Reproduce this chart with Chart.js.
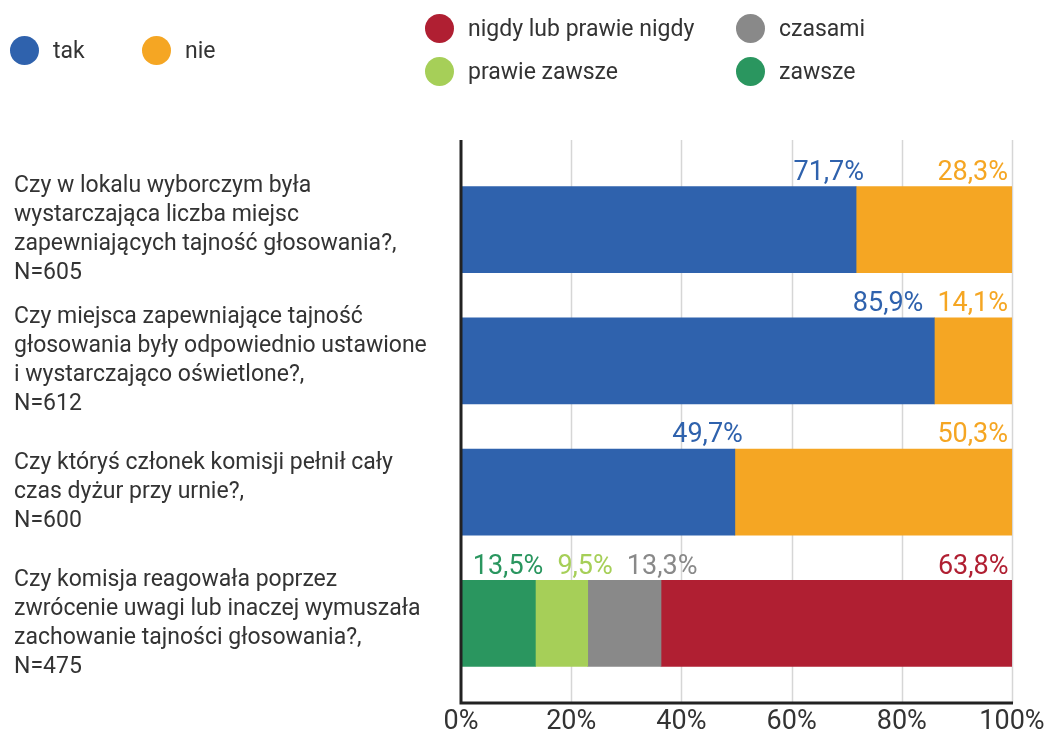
<!DOCTYPE html>
<html lang="pl">
<head>
<meta charset="utf-8">
<script src="https://cdn.jsdelivr.net/npm/chart.js@4/dist/chart.umd.min.js"></script>
<style>
  html, body { margin: 0; padding: 0; background: #fff; }
  #wrap { position: relative; width: 1045px; height: 735px; font-family: Roboto, "Noto Sans", sans-serif; color: #333; }
  #chart { position: absolute; left: 0; top: 0; }
  .legend { position: absolute; display: grid; row-gap: 14px; font-size: 23px; }
  .legend .item { display: flex; align-items: center; height: 29px; }
  .legend .dot { width: 29px; height: 29px; border-radius: 50%; margin-right: 14px; flex: none; }
  #legend-a { left: 10px; top: 36px; grid-template-columns: 132px auto; }
  #legend-b { left: 425px; top: 14px; grid-template-columns: 311px auto; }
</style>
</head>
<body>
<div id="wrap">
  <canvas id="chart" width="1045" height="735"></canvas>
  <div class="legend" id="legend-a"></div>
  <div class="legend" id="legend-b"></div>
</div>
<script>
// ── dane ────────────────────────────────────────────────────────────────
const categories = [
    ['Czy w lokalu wyborczym była', 'wystarczająca liczba miejsc', 'zapewniających tajność głosowania?,', 'N=605'],
    ['Czy miejsca zapewniające tajność', 'głosowania były odpowiednio ustawione', 'i wystarczająco oświetlone?,', 'N=612'],
    ['Czy któryś członek komisji pełnił cały', 'czas dyżur przy urnie?,', 'N=600'],
    ['Czy komisja reagowała poprzez', 'zwrócenie uwagi lub inaczej wymuszała', 'zachowanie tajności głosowania?,', 'N=475'],
];
const tak = [71.7, 85.9, 49.7, null];
const nie = [28.3, 14.1, 50.3, null];
const zawsze = [null, null, null, 13.5];
const prawieZawsze = [null, null, null, 9.5];
const czasami = [null, null, null, 13.3];
const nigdy = [null, null, null, 63.8];
const xTicks = [0, 20, 40, 60, 80, 100];

const series = [
    { label: 'tak', data: tak, color: '#2f62ad', legend: 'a', order: 0 },
    { label: 'nie', data: nie, color: '#f5a623', legend: 'a', order: 1 },
    { label: 'zawsze', data: zawsze, color: '#2a965f', legend: 'b', order: 3 },
    { label: 'prawie zawsze', data: prawieZawsze, color: '#a6cf58', legend: 'b', order: 2 },
    { label: 'czasami', data: czasami, color: '#898989', legend: 'b', order: 1 },
    { label: 'nigdy lub prawie nigdy', data: nigdy, color: '#b01f32', legend: 'b', order: 0 },
];

// ── legenda (HTML, dwie grupy) ───────────────────────────────────────────
['a', 'b'].forEach((g) => {
    const box = document.getElementById('legend-' + g);
    series.filter((s) => s.legend === g).sort((p, q) => p.order - q.order).forEach((s) => {
        const it = document.createElement('div');
        it.className = 'item';
        it.innerHTML = `<span class="dot" style="background:${s.color}"></span><span>${s.label}</span>`;
        box.appendChild(it);
    });
});

const FONT = 'Roboto, "Noto Sans", sans-serif';
const LINE_TOP = 140, LINE_BOTTOM = 703;
const pct = (v) => v.toFixed(1).replace('.', ',') + '%';

// Siatka i osie sięgają poza pole wykresu (jak w oryginale).
const axesPlugin = {
    id: 'axesLines',
    beforeDatasetsDraw(chart) {
        const { ctx, scales: { x } } = chart;
        ctx.save();
        ctx.strokeStyle = '#d6d6d6';
        ctx.lineWidth = 1.5;
        xTicks.slice(1).forEach((t) => {
            const px = Math.round(x.getPixelForValue(t)) + 0.5;
            ctx.beginPath(); ctx.moveTo(px, LINE_TOP); ctx.lineTo(px, LINE_BOTTOM); ctx.stroke();
        });
        ctx.restore();
    },
    afterDatasetsDraw(chart) {
        const { ctx, scales: { x } } = chart;
        const x0 = x.getPixelForValue(0);
        const x1 = x.getPixelForValue(100);
        ctx.save();
        ctx.strokeStyle = '#222';
        ctx.lineWidth = 3;
        ctx.beginPath();
        ctx.moveTo(x0, LINE_TOP);
        ctx.lineTo(x0, LINE_BOTTOM);
        ctx.lineTo(x1 + 1, LINE_BOTTOM);
        ctx.stroke();
        ctx.restore();
    },
};

// Popisky hodnot nad pruhy: u konce segmentu, překryvy se odsouvají doprava,
// poslední popisek je zarovnaný k pravému okraji pruhu.
const valuePlugin = {
    id: 'valueLabels',
    afterDatasetsDraw(chart) {
        const { ctx } = chart;
        ctx.save();
        ctx.font = `27px ${FONT}`;
        ctx.textBaseline = 'bottom';
        ctx.textAlign = 'left';
        const gap = 14;
        categories.forEach((_, i) => {
            const items = [];
            chart.data.datasets.forEach((ds, di) => {
                const v = ds.data[i];
                if (v == null) return;
                const el = chart.getDatasetMeta(di).data[i];
                items.push({ text: pct(v), color: ds.backgroundColor, end: el.x, top: el.y - el.height / 2 });
            });
            if (!items.length) return;
            items.forEach((it) => { it.w = ctx.measureText(it.text).width; it.right = it.end + 8; });
            const last = items[items.length - 1];
            last.right = last.end - 4;
            for (let k = 1; k < items.length - 1; k++) {
                const prevRight = items[k - 1].right;
                if (items[k].right - items[k].w < prevRight + gap) items[k].right = prevRight + gap + items[k].w;
            }
            for (let k = items.length - 2; k >= 0; k--) {
                const nextLeft = items[k + 1].right - items[k + 1].w;
                items[k].right = Math.min(items[k].right, nextLeft - gap);
            }
            items.forEach((it) => {
                ctx.fillStyle = it.color;
                ctx.fillText(it.text, it.right - it.w, it.top);
            });
        });
        ctx.restore();
    },
};

new Chart(document.getElementById('chart'), {
    type: 'bar',
    data: {
        labels: categories,
        datasets: series.map((s) => ({
            label: s.label,
            data: s.data,
            backgroundColor: s.color,
            borderWidth: 0,
            barThickness: 86,
        })),
    },
    plugins: [axesPlugin, valuePlugin],
    options: {
        indexAxis: 'y',
        responsive: false,
        animation: false,
        layout: { padding: { top: 164, right: 33, left: 14, bottom: 0 } },
        plugins: { legend: { display: false }, tooltip: { enabled: false } },
        scales: {
            x: {
                stacked: true,
                min: 0, max: 100,
                afterBuildTicks: (s) => { s.ticks = xTicks.map((v) => ({ value: v })); },
                afterFit: (s) => { s.height = 46; s.paddingLeft = 0; s.paddingRight = 0; },
                grid: { display: false, drawTicks: false },
                border: { display: false },
                ticks: { callback: (v) => v + '%', color: '#333', padding: 18, maxRotation: 0, font: { family: FONT, size: 27, lineHeight: 1.1 } },
            },
            y: {
                stacked: true,
                afterFit: (s) => { s.width = 447; s.paddingTop = 0; s.paddingBottom = 0; },
                grid: { display: false },
                border: { display: false },
                ticks: { crossAlign: 'far', color: '#333', font: { family: FONT, size: 23, lineHeight: 1.26 } },
            },
        },
    },
});
</script>
</body>
</html>
